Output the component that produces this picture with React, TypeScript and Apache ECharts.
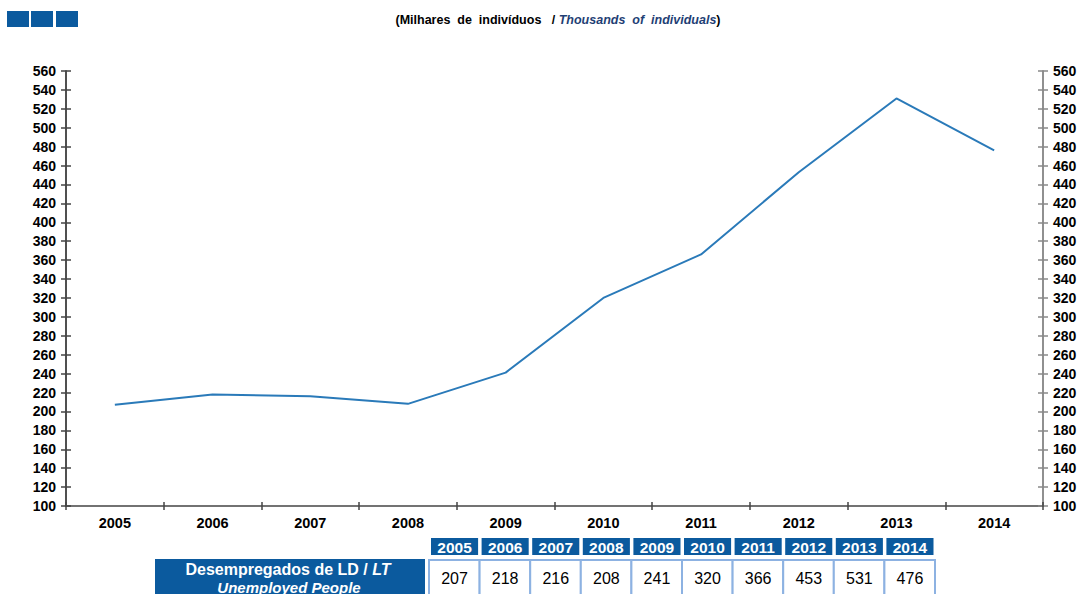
import React, { useEffect, useRef } from "react";
import * as echarts from "echarts";

const years = ["2005", "2006", "2007", "2008", "2009", "2010", "2011", "2012", "2013", "2014"];
const values = [207, 218, 216, 208, 241, 320, 366, 453, 531, 476];
const yMin = 100;
const yMax = 560;
const yStep = 20;

const BLUE = "#0b5a9e";

export default function App() {
  const ref = useRef<HTMLDivElement>(null);
  useEffect(() => {
    if (!ref.current) return;
    const chart = echarts.init(ref.current, null, { renderer: "svg" });
    const yLabelStyle = { fontFamily: "Liberation Sans, Arial", fontWeight: "bold" as const, fontSize: 14, color: "#000" };
    const xLabelStyle = { fontFamily: "Liberation Sans, Arial", fontWeight: "bold" as const, fontSize: 14.5, color: "#000" };
    const mkY = (pos: "left" | "right", inside: boolean, showLabel: boolean, lineColor: string) => ({
      type: "value" as const,
      position: pos,
      min: yMin,
      max: yMax,
      interval: yStep,
      splitLine: { show: false },
      axisLine: { show: true, lineStyle: { color: lineColor, width: 1.5 } },
      axisTick: { show: true, inside, length: 5, lineStyle: { color: lineColor, width: 1.5 } },
      axisLabel: { show: showLabel, margin: 10, ...yLabelStyle },
    });

    const colStart = 431;
    const colW = 50.6;
    const graphics: any[] = [];
    [7, 31, 56].forEach((x) => {
      graphics.push({ type: "rect", left: x, top: 11, shape: { width: 22, height: 16 }, style: { fill: BLUE } });
    });
    graphics.push({
      type: "text",
      x: 558,
      y: 20,
      style: {
        text: "{a|(Milhares  de  indivíduos   / }{b|Thousands  of  individuals}{a|)}",
        align: "center",
        verticalAlign: "middle",
        rich: {
          a: { fontFamily: "Liberation Sans, Arial", fontWeight: "bold", fontSize: 12.5, fill: "#000" },
          b: { fontFamily: "Liberation Sans, Arial", fontWeight: "bold", fontStyle: "italic", fontSize: 12.5, fill: "#1f3f75" },
        },
      },
    });
    years.forEach((yr, i) => {
      const x = colStart + i * colW;
      graphics.push({ type: "rect", shape: { x, y: 538, width: colW - 3.5, height: 17 }, style: { fill: BLUE } });
      graphics.push({
        type: "text",
        x: x + (colW - 3.5) / 2,
        y: 547,
        style: { text: yr, align: "center", verticalAlign: "middle", fill: "#fff", font: "bold 15.5px Liberation Sans, Arial" },
      });
      graphics.push({
        type: "rect",
        shape: { x: x - 2, y: 560, width: colW, height: 40 },
        style: { fill: "#fff", stroke: "#8db2e2", lineWidth: 2 },
      });
      graphics.push({
        type: "text",
        x: x + (colW - 3.5) / 2,
        y: 578,
        style: { text: String(values[i]), align: "center", verticalAlign: "middle", fill: "#000", font: "16px Liberation Sans, Arial" },
      });
    });
    graphics.push({ type: "rect", shape: { x: 155, y: 559, width: 270, height: 40 }, style: { fill: BLUE } });
    graphics.push({
      type: "text",
      x: 288,
      y: 569,
      style: {
        text: "{a|Desempregados de LD / }{b|LT}",
        align: "center",
        verticalAlign: "middle",
        rich: {
          a: { fontFamily: "Liberation Sans, Arial", fontWeight: "bold", fontSize: 16, fill: "#fff" },
          b: { fontFamily: "Liberation Sans, Arial", fontWeight: "bold", fontStyle: "italic", fontSize: 16, fill: "#fff" },
        },
      },
    });
    graphics.push({
      type: "text",
      x: 289,
      y: 587,
      style: { text: "Unemployed People", align: "center", verticalAlign: "middle", fill: "#fff", font: "italic bold 15px Liberation Sans, Arial" },
    });

    chart.setOption({
      animation: false,
      backgroundColor: "#fff",
      grid: { left: 66, right: 43, top: 71, bottom: 88, containLabel: false },
      xAxis: [
        {
          type: "category",
          data: years,
          boundaryGap: true,
          axisLine: { lineStyle: { color: "#444", width: 1.5 } },
          axisTick: { show: true, inside: false, length: 4, lineStyle: { color: "#444", width: 1.5 } },
          axisLabel: { margin: 9, ...xLabelStyle },
        },
        {
          type: "category",
          data: years,
          position: "bottom",
          boundaryGap: true,
          axisLine: { show: false },
          axisTick: { show: true, inside: true, length: 4, lineStyle: { color: "#444", width: 1.5 } },
          axisLabel: { show: false },
        },
      ],
      yAxis: [
        mkY("left", false, true, "#444"),
        mkY("right", false, true, "#888"),
        mkY("left", true, false, "#444"),
        mkY("right", true, false, "#888"),
      ],
      series: [
        {
          type: "line",
          data: values,
          xAxisIndex: 0,
          yAxisIndex: 0,
          symbol: "none",
          lineStyle: { color: "#2a7ab9", width: 2 },
        },
      ],
      graphic: graphics,
    });
    return () => chart.dispose();
  }, []);
  return <div ref={ref} style={{ width: 1086, height: 594, position: "absolute", left: 0, top: 0 }} />;
}
